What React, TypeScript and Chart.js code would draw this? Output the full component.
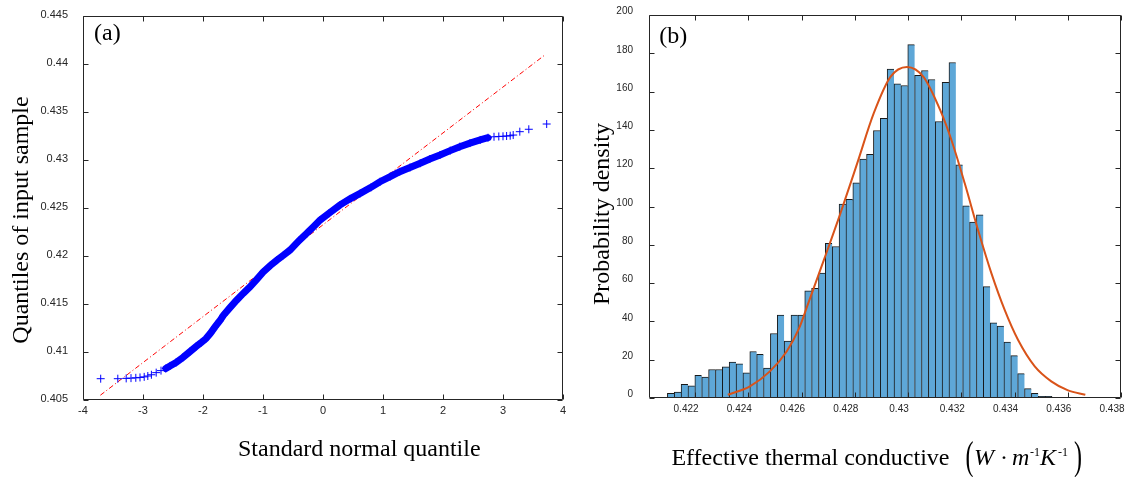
import React, { useEffect, useRef } from 'react';
import { Chart, registerables } from 'chart.js';

Chart.register(...registerables);

// ---------- Panel (a): normal probability (QQ) plot ----------
const qqTheoretical = [
  -3.705, -3.42, -3.28, -3.2, -3.12, -3.05, -2.98, -2.92, -2.86, -2.78, -2.7, -2.62, -2.55, -2.45,
  -2.33, -2.22, -2.12, -2.03, -1.95, -1.88, -1.8, -1.72, -1.66, -1.55, -1.44, -1.33, -1.22, -1.1,
  -1.0, -0.88, -0.77, -0.66, -0.55, -0.4, -0.27, -0.15, -0.05, 0.1, 0.28, 0.45, 0.62, 0.8, 0.95,
  1.12, 1.28, 1.45, 1.62, 1.78, 1.95, 2.12, 2.28, 2.45, 2.62, 2.75, 2.85, 2.93, 3.0, 3.06, 3.12,
  3.17, 3.28, 3.43, 3.728,
];
const qqSample = [
  0.40722, 0.40722, 0.40725, 0.40728, 0.40731, 0.40735, 0.40741, 0.4075, 0.40763, 0.40785, 0.40806,
  0.40828, 0.40855, 0.4089, 0.40945, 0.41003, 0.41055, 0.41098, 0.4114, 0.41192, 0.41262, 0.41325,
  0.41382, 0.41462, 0.41539, 0.4161, 0.41677, 0.4176, 0.41832, 0.419, 0.41956, 0.42008, 0.42061,
  0.4216, 0.42236, 0.4231, 0.42374, 0.42445, 0.4253, 0.42595, 0.42652, 0.42715, 0.42774, 0.42828,
  0.42878, 0.42922, 0.42966, 0.4301, 0.43052, 0.43098, 0.43139, 0.43176, 0.43209, 0.43232, 0.43242,
  0.43245, 0.43247, 0.4325, 0.43253, 0.4326, 0.43295, 0.4332, 0.43375,
];
const refLineX = [-3.71, 3.71];
const refLineY = [0.4055, 0.441];
const qqXTicks = [-4, -3, -2, -1, 0, 1, 2, 3, 4];
const qqXTickLabels = ['-4', '-3', '-2', '-1', '0', '1', '2', '3', '4'];
const qqYTicks = [0.405, 0.41, 0.415, 0.42, 0.425, 0.43, 0.435, 0.44, 0.445];
const qqYTickLabels = ['0.405', '0.41', '0.415', '0.42', '0.425', '0.43', '0.435', '0.44', '0.445'];

// ---------- Panel (b): histogram + fitted density ----------
const binStart = 0.42096;
const binWidth = 0.000258;
const histCounts = [
  2.4, 3.1, 7.1, 6.3, 11.8, 10.9, 14.9, 14.9, 16.3, 18.8,
  17.9, 13.2, 24.3, 22.8, 15.6, 33.7, 43.3, 29.7, 43.3, 43.3,
  56.0, 57.3, 65.2, 80.8, 79.1, 101.3, 103.7, 112.3, 124.8, 127.2,
  139.7, 146.1, 171.8, 164.0, 163.2, 184.5, 168.5, 171.0, 166.3, 144.4,
  164.9, 175.2, 121.8, 100.4, 91.9, 95.7, 58.2, 39.3, 37.5, 29.2,
  22.1, 12.7, 4.9, 2.4, 0.9, 0.9,
];
const fitX = [
  0.42323, 0.42406, 0.42481, 0.42544, 0.42591, 0.42621, 0.42684, 0.42746, 0.42809, 0.42871, 0.42934,
  0.42996, 0.43058, 0.43121, 0.43163, 0.43213, 0.43263, 0.43313, 0.43363, 0.43413, 0.43476, 0.43538,
  0.43601, 0.43666,
];
const fitY = [
  1.7, 6.1, 13.9, 24.3, 36.5, 47.8, 72.1, 96.4, 122.5, 148.6, 167.7,
  172.9, 167.7, 150.3, 134.7, 112.1, 87.7, 65.2, 46.0, 30.4, 16.5, 8.7,
  4.0, 1.7,
];
const histXTicks = [0.422, 0.424, 0.426, 0.428, 0.43, 0.432, 0.434, 0.436, 0.438];
const histXTickLabels = ['0.422', '0.424', '0.426', '0.428', '0.43', '0.432', '0.434', '0.436', '0.438'];
const histYTicks = [0, 20, 40, 60, 80, 100, 120, 140, 160, 180, 200];
const histYTickLabels = ['0', '20', '40', '60', '80', '100', '120', '140', '160', '180', '200'];

const SANS = '"Liberation Sans", Arial, sans-serif';
const SERIF = '"Liberation Serif", "Times New Roman", serif';
const AXIS_COLOR = '#262626';

// Box frame with inward tick marks on all four sides
const framePlugin = {
  id: 'frameTicks',
  afterDatasetsDraw(chart: any) {
    const { ctx, chartArea, scales } = chart;
    const { left, right, top, bottom } = chartArea;
    const L = Math.round(left) + 0.5;
    const R = Math.round(right) - 0.5;
    const T = Math.round(top) + 0.5;
    const B = Math.round(bottom) - 0.5;
    const len = 5;
    ctx.save();
    ctx.strokeStyle = AXIS_COLOR;
    ctx.lineWidth = 1;
    ctx.beginPath();
    ctx.rect(L, T, R - L, B - T);
    scales.x.ticks.forEach((t: any) => {
      const px = Math.round(scales.x.getPixelForValue(t.value)) + 0.5;
      ctx.moveTo(px, B);
      ctx.lineTo(px, B - len);
      ctx.moveTo(px, T);
      ctx.lineTo(px, T + len);
    });
    scales.y.ticks.forEach((t: any) => {
      const py = Math.round(scales.y.getPixelForValue(t.value)) + 0.5;
      ctx.moveTo(L, py);
      ctx.lineTo(L + len, py);
      ctx.moveTo(R, py);
      ctx.lineTo(R - len, py);
    });
    ctx.stroke();
    ctx.restore();
  },
};

function rotatedText(ctx: CanvasRenderingContext2D, text: string, x: number, y: number) {
  ctx.save();
  ctx.translate(x, y);
  ctx.rotate(-Math.PI / 2);
  ctx.textAlign = 'center';
  ctx.textBaseline = 'alphabetic';
  ctx.fillText(text, 0, 0);
  ctx.restore();
}

const leftTextPlugin = {
  id: 'leftText',
  afterDraw(chart: any) {
    const ctx: CanvasRenderingContext2D = chart.ctx;
    ctx.save();
    ctx.fillStyle = '#000';
    ctx.font = `24px ${SERIF}`;
    ctx.textAlign = 'left';
    ctx.textBaseline = 'alphabetic';
    ctx.fillText('Standard normal quantile', 238, 456);
    ctx.fillText('(a)', 94, 39.5);
    rotatedText(ctx, 'Quantiles of input sample', 28, 220);
    ctx.restore();
  },
};

function bigParen(ctx: CanvasRenderingContext2D, ch: string, x: number, cy: number) {
  ctx.save();
  ctx.translate(x, cy);
  ctx.scale(1, 1.7);
  ctx.font = `24px ${SERIF}`;
  ctx.fillText(ch, 0, 6);
  ctx.restore();
}

const rightTextPlugin = {
  id: 'rightText',
  afterDraw(chart: any) {
    const ctx: CanvasRenderingContext2D = chart.ctx;
    ctx.save();
    ctx.fillStyle = '#000';
    ctx.textAlign = 'left';
    ctx.textBaseline = 'alphabetic';
    ctx.font = `24px ${SERIF}`;
    ctx.fillText('(b)', 79.3, 43);
    ctx.fillText('Effective thermal conductive', 91.4, 465);
    rotatedText(ctx, 'Probability density', 29, 214);
    bigParen(ctx, '(', 385.5, 459);
    ctx.font = `italic 24px ${SERIF}`;
    ctx.fillText('W', 394, 465);
    ctx.font = `24px ${SERIF}`;
    ctx.fillText('\u00b7', 420, 465);
    ctx.font = `italic 24px ${SERIF}`;
    ctx.fillText('m', 432, 465);
    ctx.font = `12px ${SERIF}`;
    ctx.fillText('-1', 450, 456);
    ctx.font = `italic 24px ${SERIF}`;
    ctx.fillText('K', 460, 465);
    ctx.font = `12px ${SERIF}`;
    ctx.fillText('-1', 478, 456);
    bigParen(ctx, ')', 494, 459);
    ctx.restore();
  },
};

function QQChart() {
  const ref = useRef<HTMLCanvasElement>(null);
  useEffect(() => {
    if (!ref.current) return;
    const qqPoints = qqTheoretical.map((x, i) => ({ x, y: qqSample[i] }));
    const bandPoints = qqPoints.filter((p) => p.x >= -2.62 && p.x <= 2.75);
    const refPoints = refLineX.map((x, i) => ({ x, y: refLineY[i] }));
    const chart = new Chart(ref.current, {
      type: 'scatter',
      data: {
        datasets: [
          {
            data: qqPoints,
            pointStyle: 'cross',
            pointRadius: 4,
            borderColor: '#0000ff',
            backgroundColor: '#0000ff',
            borderWidth: 1,
            showLine: false,
          },
          {
            data: bandPoints,
            showLine: true,
            borderColor: '#0000ff',
            borderWidth: 7,
            borderCapStyle: 'round',
            pointRadius: 0,
          },
          {
            data: refPoints,
            showLine: true,
            borderColor: '#ff0000',
            borderWidth: 1,
            borderDash: [5, 2.5, 1, 2.5],
            pointRadius: 0,
          },
        ],
      } as any,
      options: {
        animation: false,
        responsive: false,
        devicePixelRatio: 1,
        events: [],
        layout: { padding: { top: 16, right: 17, left: 0, bottom: 0 } },
        plugins: { legend: { display: false }, tooltip: { enabled: false } },
        scales: {
          x: {
            type: 'linear',
            min: -4,
            max: 4,
            afterBuildTicks: (s: any) => {
              s.ticks = qqXTicks.map((v) => ({ value: v }));
            },
            afterFit: (s: any) => {
              s.height = 77;
              s.paddingLeft = 0;
              s.paddingRight = 0;
            },
            grid: { display: false, drawTicks: false },
            border: { display: false },
            ticks: {
              callback: (_v: any, i: number) => qqXTickLabels[i],
              font: { family: SANS, size: 11 },
              color: AXIS_COLOR,
              padding: 4,
              maxRotation: 0,
              autoSkip: false,
            },
          },
          y: {
            type: 'linear',
            min: 0.405,
            max: 0.445,
            afterBuildTicks: (s: any) => {
              s.ticks = qqYTicks.map((v) => ({ value: v }));
            },
            afterFit: (s: any) => {
              s.width = 83;
              s.paddingTop = 0;
              s.paddingBottom = 0;
            },
            grid: { display: false, drawTicks: false },
            border: { display: false },
            ticks: {
              callback: (_v: any, i: number) => qqYTickLabels[i],
              font: { family: SANS, size: 11 },
              color: AXIS_COLOR,
              padding: 15,
              labelOffset: -1.5,
              autoSkip: false,
            },
          },
        },
      } as any,
      plugins: [framePlugin, leftTextPlugin],
    });
    return () => chart.destroy();
  }, []);
  return (
    <canvas
      ref={ref}
      width={580}
      height={477}
      style={{ position: 'absolute', left: 0, top: 0, width: 580, height: 477 }}
    />
  );
}

function HistChart() {
  const ref = useRef<HTMLCanvasElement>(null);
  useEffect(() => {
    if (!ref.current) return;
    const bars = histCounts.map((y, i) => ({ x: binStart + (i + 0.5) * binWidth, y }));
    const fit = fitX.map((x, i) => ({ x, y: fitY[i] }));
    const last = histCounts.length - 1;
    const chart = new Chart(ref.current, {
      type: 'bar',
      data: {
        datasets: [
          {
            type: 'line',
            data: fit,
            borderColor: 'rgb(217, 83, 25)',
            borderWidth: 2,
            pointRadius: 0,
            cubicInterpolationMode: 'monotone',
            fill: false,
          },
          {
            type: 'bar',
            data: bars,
            backgroundColor: '#5ea7d7',
            borderColor: 'rgba(0,0,0,0.9)',
            borderWidth: (c: any) => ({ top: 1, left: 1, right: c.dataIndex === last ? 1 : 0, bottom: 0 }),
            barPercentage: 1,
            categoryPercentage: 1,
          },
        ],
      } as any,
      options: {
        animation: false,
        responsive: false,
        devicePixelRatio: 1,
        events: [],
        layout: { padding: { top: 15, right: 6, left: 0, bottom: 0 } },
        plugins: { legend: { display: false }, tooltip: { enabled: false } },
        scales: {
          x: {
            type: 'linear',
            min: 0.42027,
            max: 0.438,
            offset: false,
            afterBuildTicks: (s: any) => {
              s.ticks = histXTicks.map((v) => ({ value: v }));
            },
            afterFit: (s: any) => {
              s.height = 79;
              s.paddingLeft = 0;
              s.paddingRight = 0;
            },
            grid: { display: false, drawTicks: false, offset: false },
            border: { display: false },
            ticks: {
              callback: (_v: any, i: number) => histXTickLabels[i],
              font: { family: SANS, size: 10 },
              color: AXIS_COLOR,
              padding: 5,
              labelOffset: -9,
              maxRotation: 0,
              autoSkip: false,
            },
          },
          y: {
            type: 'linear',
            min: 0,
            max: 200,
            afterBuildTicks: (s: any) => {
              s.ticks = histYTicks.map((v) => ({ value: v }));
            },
            afterFit: (s: any) => {
              s.width = 69;
              s.paddingTop = 0;
              s.paddingBottom = 0;
            },
            grid: { display: false, drawTicks: false },
            border: { display: false },
            ticks: {
              callback: (_v: any, i: number) => histYTickLabels[i],
              font: { family: SANS, size: 10 },
              color: AXIS_COLOR,
              padding: 16,
              labelOffset: -3.5,
              autoSkip: false,
            },
          },
        },
      } as any,
      plugins: [framePlugin, rightTextPlugin],
    });
    return () => chart.destroy();
  }, []);
  return (
    <canvas
      ref={ref}
      width={547}
      height={477}
      style={{ position: 'absolute', left: 580, top: 0, width: 547, height: 477 }}
    />
  );
}

export default function App() {
  return (
    <div
      style={{
        position: 'fixed',
        left: 0,
        top: 0,
        width: 1127,
        height: 477,
        background: '#ffffff',
        overflow: 'hidden',
      }}
    >
      <QQChart />
      <HistChart />
    </div>
  );
}
